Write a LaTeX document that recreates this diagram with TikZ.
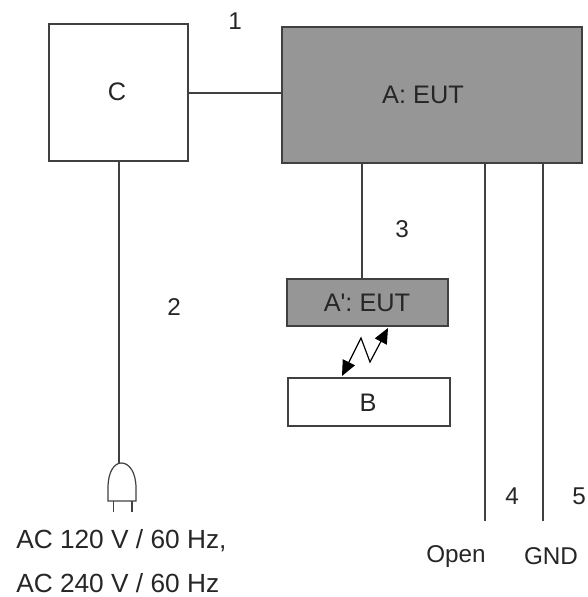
\documentclass[tikz,border=0pt]{standalone}
\usepackage{fontspec}
\newfontfamily\labelfont{Liberation Sans}
\usetikzlibrary{arrows.meta}
\definecolor{linec}{HTML}{404040}
\definecolor{shade}{HTML}{969696}
\tikzset{
  px/.style={x=0.75pt,y=-0.75pt},
  wire/.style={draw=linec,line width=1pt},
  blockbox/.style={draw=linec,line width=1.1pt,fill=white,minimum size=0pt,inner sep=0pt},
  eutbox/.style={blockbox,fill=shade},
  lbl/.style={text=black!85,inner sep=0pt,font=\labelfont\fontsize{18.2}{22}\selectfont},
  boxlbl/.style={lbl,font=\labelfont\fontsize{19}{22}\selectfont},
  mainslbl/.style={lbl,anchor=west,font=\labelfont\fontsize{19.7}{22}\selectfont},
  radio/.style={draw=black,line width=0.9pt,{Triangle[length=11.5pt,width=10pt]}-{Triangle[length=11.5pt,width=10pt]}}
}
\begin{document}
\begin{tikzpicture}[px]
\useasboundingbox (0,0) rectangle (587,597);
\node[blockbox,minimum width=104.25pt,minimum height=102.75pt] (c) at (118.5,92.5) {};
\node[eutbox,minimum width=225pt,minimum height=102pt] (a) at (432,95) {};
\node[eutbox,minimum width=120.75pt,minimum height=35.25pt] (ap) at (367.5,302.5) {};
\node[blockbox,minimum width=121.5pt,minimum height=36pt] (b) at (369,402) {};
\node[boxlbl] at (117,92) {C};
\node[boxlbl] at (423,95) {A: EUT};
\node[boxlbl] at (367,303) {A': EUT};
\node[boxlbl] at (368,403) {B};
\coordinate (aw) at (a.west);
\draw[wire] (c.east |- 0,93) -- (aw |- 0,93);
\coordinate (plugtop) at (119,463);
\draw[wire] (119,161) -- (plugtop);
\draw[wire] (362,163) -- (362,279);
\coordinate (w4) at (485,521);
\coordinate (w5) at (543,521);
\draw[wire] (485,163) -- (w4);
\draw[wire] (543,163) -- (w5);
% plug
\draw[draw=linec,line width=0.9pt] (108,501) -- (108,488) .. controls (108,472) and (114,463) .. (121.5,463) .. controls (129,463) and (136,472) .. (136,488) -- (136,501) -- cycle;
\draw[draw=linec,line width=0.9pt] (113.5,501) -- (113.5,512) (132,501) -- (132,512);
% radio link
\coordinate (r1) at (342,376);
\coordinate (r2) at (361,338);
\coordinate (r3) at (370,362);
\coordinate (r4) at (388,328);
\draw[radio] (r1) -- (r2) -- (r3) -- (r4);
\node[lbl] at (235,21) {1};
\node[lbl] at (174,307) {2};
\node[lbl] at (402,229) {3};
\node[lbl] at (512,496) {4};
\node[lbl] at (579,496) {5};
\node[mainslbl] at (16,541) {AC 120 V / 60 Hz,};
\node[mainslbl] at (16,583) {AC 240 V / 60 Hz};
\node[lbl] at (456,557) {Open};
\node[lbl] at (551,556) {GND};
\end{tikzpicture}
\end{document}
